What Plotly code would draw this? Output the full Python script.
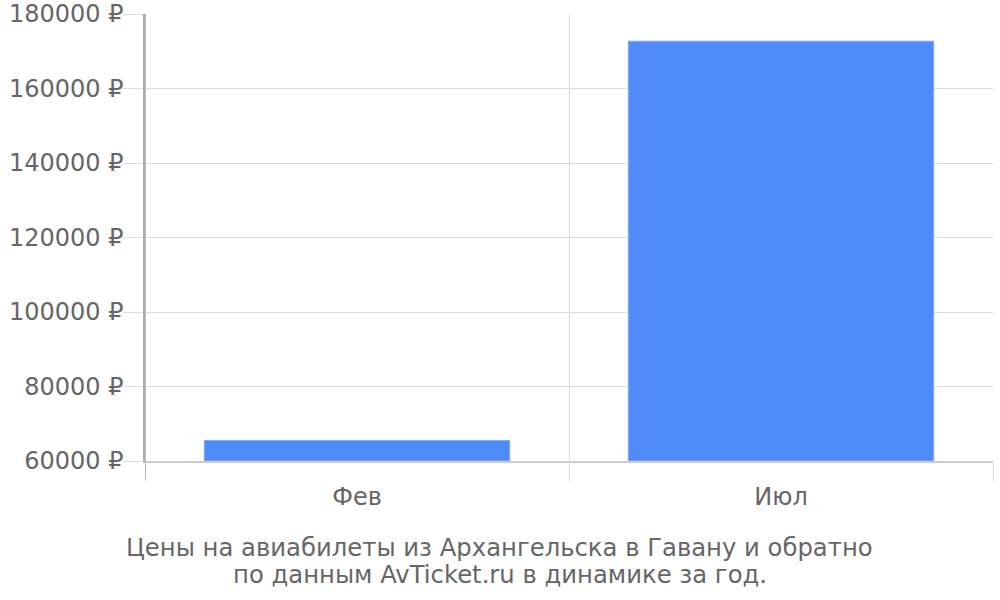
import plotly.graph_objects as go

categories = ["Фев", "Июл"]
prices = [65500, 172700]
y_ticks = [60000, 80000, 100000, 120000, 140000, 160000, 180000]
y_tick_labels = [f"{v} ₽" for v in y_ticks]
title_lines = ["Цены на авиабилеты из Архангельска в Гавану и обратно",
               "по данным AvTicket.ru в динамике за год."]

centers = [i + 0.5 for i in range(len(categories))]
bounds = list(range(len(categories) + 1))

fig = go.Figure()
fig.add_trace(go.Bar(
    x=centers, y=[p - y_ticks[0] for p in prices], base=y_ticks[0],
    width=0.72,
    marker=dict(color="#4f8bf9", line=dict(color="#7eaafb", width=1)),
    xaxis="x", yaxis="y",
))
fig.add_trace(go.Scatter(x=centers, y=[y_ticks[0]] * len(centers), mode="markers",
                         marker=dict(opacity=0), xaxis="x2", yaxis="y",
                         hoverinfo="skip"))

fig.update_layout(
    width=1000, height=600,
    margin=dict(l=145, r=7, t=14, b=139, autoexpand=False),
    paper_bgcolor="white", plot_bgcolor="white",
    showlegend=False,
    font=dict(family="DejaVu Sans", size=24, color="#666666"),
    xaxis=dict(range=[0, len(categories)], tickvals=bounds,
               ticktext=[""] * len(bounds), automargin=False,
               showgrid=True, gridcolor="#dddddd", gridwidth=1,
               ticks="outside", ticklen=19, tickcolor="#dddddd", tickwidth=1,
               zeroline=False, showline=True, linecolor="#cccccc", linewidth=1.5),
    xaxis2=dict(range=[0, len(categories)], overlaying="x", anchor="y", side="bottom",
                tickvals=centers, ticktext=categories, showgrid=False, zeroline=False,
                ticks="", ticklabelstandoff=19, showline=False, automargin=False,
                tickfont=dict(size=24, color="#666666")),
    yaxis=dict(range=[y_ticks[0], y_ticks[-1]], tickvals=y_ticks, ticktext=y_tick_labels,
               showgrid=True, gridcolor="#dddddd", gridwidth=1, automargin=False,
               ticks="outside", ticklen=20, tickcolor="#dddddd",
               ticklabelstandoff=-5,
               zeroline=False, showline=True, linecolor="#aaaaaa", linewidth=1.5,
               tickfont=dict(size=24, color="#666666")),
    shapes=[dict(type="line", xref="x", yref="paper", x0=0, x1=0, y0=-0.042, y1=1,
                 line=dict(color="#aaaaaa", width=1.5))],
    annotations=[dict(text=line, xref="paper", yref="paper",
                      x=0.4186, y=yy, xanchor="center", yanchor="middle",
                      showarrow=False, font=dict(size=24.3, color="#666666"))
                 for line, yy in zip(title_lines, [-0.1924, -0.255])],
)

fig.write_html("out.html", config={"displayModeBar": False},
               post_script="document.body.style.margin='0';")
